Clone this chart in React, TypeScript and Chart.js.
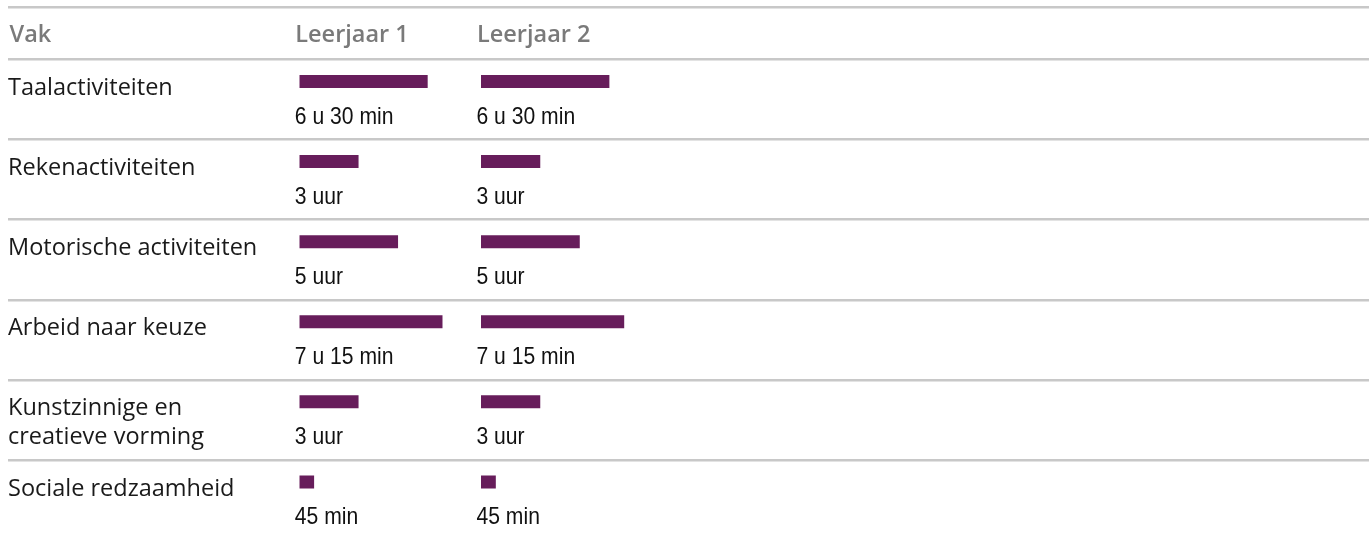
import React, { useEffect, useRef } from "react";
import { Chart, registerables } from "chart.js";

Chart.register(...registerables);

// ---- data ----
const HEADER_FIRST = "Vak";
const COLUMNS = ["Leerjaar 1", "Leerjaar 2"];
const SUBJECTS: string[][] = [
  ["Taalactiviteiten"],
  ["Rekenactiviteiten"],
  ["Motorische activiteiten"],
  ["Arbeid naar keuze"],
  ["Kunstzinnige en", "creatieve vorming"],
  ["Sociale redzaamheid"],
];
// hours per week
const LEERJAAR_1 = [6.5, 3, 5, 7.25, 3, 0.75];
const LEERJAAR_2 = [6.5, 3, 5, 7.25, 3, 0.75];
// start of the second column, in hours on the shared x scale
const COL2_START = 9.2;
const X_MAX = 54.16;

const PURPLE = "#671d5b";
const LINE = "#c8c8c8";

function formatDuration(h: number): string {
  const hrs = Math.floor(h);
  const min = Math.round((h - hrs) * 60);
  if (hrs === 0) return `${min} min`;
  if (min === 0) return `${hrs} uur`;
  return `${hrs} u ${min} min`;
}

const tablePlugin = {
  id: "tableDecor",
  beforeDraw(chart: any) {
    const { ctx, chartArea } = chart;
    ctx.save();
    ctx.strokeStyle = LINE;
    ctx.lineWidth = 2.5;
    ctx.beginPath();
    ctx.moveTo(8, 7.3);
    ctx.lineTo(chartArea.right, 7.3);
    ctx.stroke();
    ctx.restore();
  },
  afterDraw(chart: any) {
    const { ctx } = chart;
    const x = chart.scales.x;
    ctx.save();
    // header
    ctx.fillStyle = "#7a7a7a";
    ctx.font = "600 23.5px 'Open Sans'";
    ctx.textBaseline = "alphabetic";
    ctx.textAlign = "left";
    ctx.fillText(HEADER_FIRST, 9.5, 42);
    const starts = [0, COL2_START];
    COLUMNS.forEach((c, i) => {
      ctx.fillText(c, x.getPixelForValue(starts[i]) - 4, 42);
    });
    // value labels (placed from the transparent label datasets)
    ctx.fillStyle = "#111111";
    ctx.font = "24px 'Liberation Sans', Arial, sans-serif";
    const sx = 0.88;
    [2, 3].forEach((di) => {
      const meta = chart.getDatasetMeta(di);
      const vals = di === 2 ? LEERJAAR_1 : LEERJAAR_2;
      meta.data.forEach((bar: any, i: number) => {
        const left = Math.min(bar.x, bar.base) - 4.5;
        ctx.save();
        ctx.scale(sx, 1);
        ctx.fillText(formatDuration(vals[i]), left / sx, bar.y + 6.5);
        ctx.restore();
      });
    });
    ctx.restore();
  },
};

export default function App() {
  const ref = useRef<HTMLCanvasElement | null>(null);

  useEffect(() => {
    if (!ref.current) return;
    const labels = SUBJECTS.map((s) => (s.length === 1 ? [s[0], ""] : s));
    const barOpts = {
      maxBarThickness: 13,
      barPercentage: 1,
      categoryPercentage: 0.9,
      borderWidth: 0,
    };
    const chart = new Chart(ref.current, {
      type: "bar",
      data: {
        labels,
        datasets: [
          {
            label: COLUMNS[0],
            data: LEERJAAR_1.map((v) => [0, v]),
            backgroundColor: PURPLE,
            stack: "bars",
            ...barOpts,
          },
          {
            label: COLUMNS[1],
            data: LEERJAAR_2.map((v) => [COL2_START, COL2_START + v]),
            backgroundColor: PURPLE,
            stack: "bars",
            ...barOpts,
          },
          {
            label: "l1-text",
            data: LEERJAAR_1.map((v) => [0, v]),
            backgroundColor: "rgba(0,0,0,0)",
            stack: "labels",
            ...barOpts,
          },
          {
            label: "l2-text",
            data: LEERJAAR_2.map((v) => [COL2_START, COL2_START + v]),
            backgroundColor: "rgba(0,0,0,0)",
            stack: "labels",
            ...barOpts,
          },
        ],
      } as any,
      options: {
        indexAxis: "y",
        responsive: false,
        animation: false,
        events: [],
        layout: { padding: { top: 59.5, left: 8, right: 3, bottom: 0 } },
        plugins: { legend: { display: false }, tooltip: { enabled: false } },
        scales: {
          x: {
            type: "linear",
            min: 0,
            max: X_MAX,
            stacked: false,
            display: false,
          },
          y: {
            type: "category",
            border: { display: false },
            grid: {
              offset: true,
              color: LINE,
              lineWidth: 2.5,
              tickLength: 291.3,
              drawTicks: true,
            },
            ticks: {
              autoSkip: false,
              crossAlign: "far",
              labelOffset: 3,
              color: "#1a1a1a",
              font: { family: "'Open Sans'", size: 23.5, lineHeight: 1.2 },
            },
            afterFit(scale: any) {
              scale.width = 291.3;
              scale.paddingTop = 0;
              scale.paddingBottom = 0;
            },
          },
        },
      } as any,
      plugins: [tablePlugin],
    });
    return () => chart.destroy();
  }, []);

  return (
    <div
      style={{
        position: "fixed",
        left: 0,
        top: 0,
        width: 1372,
        height: 535,
        overflow: "hidden",
        background: "#ffffff",
      }}
    >
      <canvas ref={ref} width={1372} height={540} style={{ display: "block" }} />
    </div>
  );
}
